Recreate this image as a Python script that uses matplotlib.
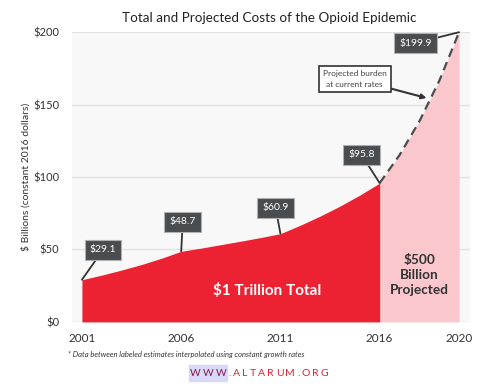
import matplotlib.pyplot as plt

plt.rcParams['font.family'] = ['Lato', 'DejaVu Sans']

# Annual estimates (constant growth between the labeled years)
years_hist = [2001, 2002, 2003, 2004, 2005, 2006, 2007, 2008, 2009, 2010,
              2011, 2012, 2013, 2014, 2015, 2016]
cost_hist = [29.1, 32.3, 35.8, 39.6, 43.9, 48.7, 50.9, 53.3, 55.7, 58.2,
             60.9, 66.7, 73.0, 79.9, 87.5, 95.8]
years_proj = [2016, 2017, 2018, 2019, 2020]
cost_proj = [95.8, 115.1, 138.4, 166.3, 199.9]

label_years = [2001, 2006, 2011, 2016, 2020]
label_values = [29.1, 48.7, 60.9, 95.8, 199.9]
label_pos = [(2002.06, 49.7), (2006.08, 69.0), (2010.76, 78.6),
             (2015.09, 115.2), (2017.81, 192.4)]

yticks = [0, 50, 100, 150, 200]

red = '#ec2232'
pink = '#f9c7cc'
dark = '#4a4d50'

fig = plt.figure(figsize=(5, 3.86), dpi=100)
ax = fig.add_axes([0.144, 0.166, 0.796, 0.751])
ax.set_facecolor('#f8f8f8')

ax.fill_between(years_proj, cost_proj, color=pink, lw=0, zorder=2)
ax.fill_between(years_hist, cost_hist, color=red, lw=0, zorder=3)
ax.plot(years_proj, cost_proj, ls=(0, (4, 2.5)), color=dark, lw=1.6, zorder=4)

ax.set_xlim(2000.5, 2020.55)
ax.set_ylim(0, 200)
ax.set_yticks(yticks)
ax.set_yticklabels(['$' + str(v) for v in yticks])
ax.set_xticks(label_years)
ax.set_xticklabels([str(y) for y in label_years])
ax.grid(axis='y', color='#e2e2e2', lw=1, zorder=1)
ax.set_axisbelow(True)
for s in ax.spines.values():
    s.set_visible(False)
ax.tick_params(length=0, labelsize=8.5, colors='#333333', pad=9)
ax.tick_params(axis='y', labelsize=8)
ax.tick_params(axis='x', pad=8)
ax.set_ylabel('$ Billions (constant 2016 dollars)', fontsize=7.5, color='#333333', labelpad=2)

for yr, val, pos in zip(label_years, label_values, label_pos):
    ax.annotate('$%.1f' % val, xy=(yr, val), xytext=pos, ha='center', va='center',
                fontsize=7.5, color='white', zorder=6, annotation_clip=False,
                bbox=dict(boxstyle='square,pad=0.5', fc=dark, ec='#b0b0b0', lw=0.8),
                arrowprops=dict(arrowstyle='-', color='#333333', lw=1.3,
                                shrinkA=0, shrinkB=0))

ax.annotate('Projected burden\nat current rates', xy=(2018.36, 154.5), xytext=(2014.74, 167.6),
            ha='center', va='center', fontsize=6, color='#444444', linespacing=1.6, zorder=6,
            bbox=dict(boxstyle='square,pad=0.5', fc='white', ec='#333333', lw=1.2),
            arrowprops=dict(arrowstyle='-|>', color='#333333', lw=1.5, mutation_scale=7,
                            shrinkA=0, shrinkB=0))

ax.text(2010.35, 21.4, '$1 Trillion Total', ha='center', va='center', fontsize=11,
        fontweight='bold', color='white', zorder=5)
ax.text(2018.0, 32.4, '$500\nBillion\nProjected', ha='center', va='center', fontsize=9.8,
        fontweight='bold', color='#333333', linespacing=1.3, zorder=5)

fig.text(0.538, 0.953, 'Total and Projected Costs of the Opioid Epidemic', ha='center',
         va='center', fontsize=9.7, color='#222222')
fig.text(0.136, 0.081, '* Data between labeled estimates interpolated using constant growth rates',
         ha='left', va='center', fontsize=5.5, style='italic', color='#333333')

# letter-spaced site name
site = 'WWW.ALTARUM.ORG'
renderer = fig.canvas.get_renderer()
xpx = 190.0
track = 2.1
for i, ch in enumerate(site):
    col = '#8a1a4a' if i < 3 else '#e01f30'
    t = fig.text(xpx / 500, 0.033, ch, ha='left', va='center', fontsize=7.5, color=col)
    w = t.get_window_extent(renderer).width
    if i == 2:
        fig.patches.append(plt.Rectangle((189 / 500, 0.014), (xpx + w + 1 - 189) / 500, 0.04,
                                         transform=fig.transFigure, color='#d8d8f8', zorder=0))
    xpx += w + track

fig.savefig('out.png', dpi=100)
